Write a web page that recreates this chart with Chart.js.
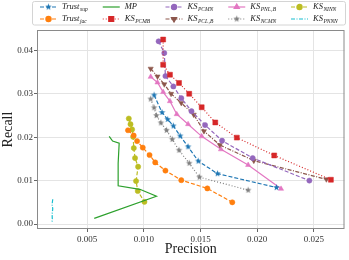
<!DOCTYPE html>
<html>
<head>
<meta charset="utf-8">
<script src="https://cdn.jsdelivr.net/npm/chart.js@4.4.0/dist/chart.umd.min.js"></script>
<style>
  html, body { margin: 0; padding: 0; background: #fff; }
  #wrap { width: 349px; height: 260px; }
</style>
</head>
<body>
<div id="wrap"><canvas id="c" width="349" height="260"></canvas></div>
<script>
const xTicks = [0.005, 0.010, 0.015, 0.020, 0.025]
const yTicks = [0.00, 0.01, 0.02, 0.03, 0.04]

const names = ["Trust", "Trust", "MP", "KS", "KS", "KS", "KS", "KS", "KS", "KS"]
const subs = ["sup", "jac", "", "PCMB", "PCMN", "PCL\u2081B", "PNL\u2081B", "NCMN", "NINN", "PNNN"]

// precision (x) / recall (y) per method
const trustSupP = [0.0109, 0.0116, 0.0121, 0.0126, 0.0132, 0.0139, 0.0148, 0.0165, 0.0217]
const trustSupR = [0.0297, 0.0257, 0.0241, 0.0226, 0.0203, 0.0178, 0.0145, 0.0116, 0.0084]
const trustJacP = [0.0086, 0.0091, 0.0094, 0.0099, 0.0105, 0.0110, 0.0119, 0.0133, 0.0156, 0.0178]
const trustJacR = [0.0216, 0.0204, 0.0191, 0.0176, 0.0159, 0.0142, 0.0123, 0.0101, 0.0082, 0.0050]
const mpP = [0.00694, 0.00724, 0.00782, 0.00773, 0.00773, 0.00964, 0.01111, 0.00562]
const mpR = [0.0202, 0.0191, 0.0186, 0.0140, 0.0088, 0.0080, 0.0064, 0.0013]
const pcmbP = [0.0117, 0.0117, 0.0123, 0.0131, 0.0140, 0.0151, 0.0163, 0.0182, 0.0215, 0.0265]
const pcmbR = [0.0425, 0.0367, 0.0344, 0.0325, 0.0300, 0.0269, 0.0234, 0.0199, 0.0158, 0.0102]
const pcmnP = [0.0113, 0.0118, 0.0119, 0.0126, 0.0133, 0.0142, 0.0154, 0.0169, 0.0196, 0.0246]
const pcmnR = [0.0421, 0.0394, 0.0341, 0.0317, 0.0290, 0.0260, 0.0228, 0.0192, 0.0152, 0.0100]
const pcl1bP = [0.0106, 0.0112, 0.0118, 0.0124, 0.0133, 0.0144, 0.0153, 0.0167, 0.0197, 0.0261]
const pcl1bR = [0.0358, 0.0340, 0.0322, 0.0300, 0.0279, 0.0252, 0.0214, 0.0182, 0.0146, 0.0103]
const pnl1bP = [0.0106, 0.0112, 0.0117, 0.0123, 0.0129, 0.0139, 0.0151, 0.0168, 0.0192, 0.0221]
const pnl1bR = [0.0339, 0.0326, 0.0304, 0.0283, 0.0253, 0.0230, 0.0202, 0.0172, 0.0136, 0.0081]
const ncmnP = [0.0106, 0.0109, 0.0111, 0.0115, 0.0120, 0.0125, 0.0131, 0.0140, 0.0149, 0.0192]
const ncmnR = [0.0288, 0.0268, 0.0250, 0.0233, 0.0216, 0.0195, 0.0170, 0.0140, 0.0108, 0.0078]
const ninnP = [0.00867, 0.00882, 0.00896, 0.00905, 0.00911, 0.00922, 0.00949, 0.00931, 0.00946, 0.01005]
const ninnR = [0.0243, 0.0230, 0.0218, 0.0201, 0.0175, 0.0152, 0.0132, 0.0099, 0.0076, 0.0051]
const pnnnP = [0.00196, 0.00190, 0.00196, 0.00190, 0.00192, 0.00190]
const pnnnR = [0.0057, 0.0045, 0.0035, 0.0022, 0.0012, 0.0005]

const pts = (xs, ys) => xs.map((x, i) => ({ x: x, y: ys[i] }))

// filled 5-point star like matplotlib's '*'
function starImg(color, r) {
  const c = document.createElement("canvas")
  const s = Math.ceil(r * 2 + 2)
  c.width = s; c.height = s
  const g = c.getContext("2d")
  g.fillStyle = color
  g.beginPath()
  for (let i = 0; i < 10; i++) {
    const rr = i % 2 === 0 ? r : r * 0.42
    const a = -Math.PI / 2 + i * Math.PI / 5
    const px = s / 2 + rr * Math.cos(a), py = s / 2 + rr * Math.sin(a)
    if (i === 0) g.moveTo(px, py); else g.lineTo(px, py)
  }
  g.closePath()
  g.fill()
  return c
}

const dashed = [4, 2]
const dotted = [1, 2]
const dashDot = [4, 1.5, 1, 1.5]

function series(xs, ys, color, dash, style, radius, rot) {
  return {
    data: pts(xs, ys),
    borderColor: color,
    backgroundColor: color,
    pointBackgroundColor: color,
    pointBorderColor: color,
    borderWidth: 1.2,
    borderDash: dash,
    pointStyle: style,
    pointRadius: radius,
    pointBorderWidth: 0.5,
    pointRotation: rot || 0,
    showLine: true,
    tension: 0
  }
}

const datasets = [
  series(trustSupP, trustSupR, "#1f77b4", dashed, starImg("#1f77b4", 3.4), 3.4),
  series(trustJacP, trustJacR, "#ff7f0e", dashed, "circle", 2.6),
  series(mpP, mpR, "#2ca02c", [], false, 0),
  series(pcmbP, pcmbR, "#d62728", dotted, "rect", 3.5),
  series(pcmnP, pcmnR, "#9467bd", dashed, "circle", 2.6),
  series(pcl1bP, pcl1bR, "#8c564b", dashDot, "triangle", 3, 180),
  series(pnl1bP, pnl1bR, "#e377c2", [], "triangle", 3),
  series(ncmnP, ncmnR, "#7f7f7f", dotted, starImg("#7f7f7f", 3.4), 3.4),
  series(ninnP, ninnR, "#bcbd22", dashed, "circle", 2.6),
  series(pnnnP, pnnnR, "#17becf", dashDot, false, 0)
]

const FONT = '"Liberation Serif", "DejaVu Serif", serif'

const frameAndLegend = {
  id: "frameAndLegend",
  afterDraw(chart) {
    const ctx = chart.ctx
    const a = chart.chartArea
    ctx.save()
    ctx.strokeStyle = "#8a8a8a"
    ctx.lineWidth = 1
    ctx.setLineDash([])
    ctx.strokeRect(a.left + 0.5, a.top + 0.5, a.right - a.left - 1, a.bottom - a.top - 1)

    // legend box
    ctx.fillStyle = "rgba(255,255,255,0.85)"
    ctx.strokeStyle = "#d4d4d4"
    ctx.beginPath()
    ctx.roundRect(32.5, 1.5, 313, 23.5, 2)
    ctx.fill()
    ctx.stroke()

    chart.data.datasets.forEach((ds, i) => {
      const col = Math.floor(i / 2), row = i % 2
      const lx = 40 + col * 62.75
      const ly = 7 + row * 12
      ctx.strokeStyle = ds.borderColor
      ctx.fillStyle = ds.borderColor
      ctx.lineWidth = 1.2
      ctx.setLineDash(ds.borderDash)
      ctx.beginPath()
      ctx.moveTo(lx, ly)
      ctx.lineTo(lx + 17, ly)
      ctx.stroke()
      ctx.setLineDash([])
      if (ds.pointStyle) {
        Chart.helpers.drawPoint(ctx, {
          pointStyle: ds.pointStyle, rotation: ds.pointRotation,
          radius: ds.pointRadius, borderWidth: 0.5
        }, lx + 8.5, ly)
      }
      ctx.fillStyle = "#222"
      ctx.textBaseline = "middle"
      ctx.textAlign = "left"
      ctx.font = "italic 8.5px " + FONT
      const tx = lx + 22
      ctx.fillText(names[i], tx, ly)
      const w = ctx.measureText(names[i]).width
      if (subs[i]) {
        ctx.font = "italic 5.5px " + FONT
        ctx.fillText(subs[i], tx + w + 0.5, ly + 2.5)
      }
    })
    ctx.restore()
  }
}

new Chart(document.getElementById("c"), {
  type: "scatter",
  data: { datasets: datasets },
  options: {
    responsive: false,
    devicePixelRatio: 1,
    animation: false,
    layout: { padding: { top: 30, right: 4, left: 0, bottom: 0 } },
    plugins: { legend: { display: false }, tooltip: { enabled: false } },
    scales: {
      x: {
        type: "linear",
        min: 0.00057,
        max: 0.0277,
        afterBuildTicks: (s) => { s.ticks = xTicks.map((v) => ({ value: v })) },
        afterFit: (s) => { s.height = 31 },
        grid: { color: "#e4e4e4", lineWidth: 1, tickLength: 3, tickColor: "#666" },
        border: { display: false },
        ticks: {
          color: "#333", padding: 2,
          font: { family: FONT, size: 9 },
          callback: (v) => v.toFixed(3)
        },
        title: {
          display: true, text: "Precision", color: "#222",
          font: { family: FONT, size: 14 }, padding: { top: 0, bottom: 2 }
        }
      },
      y: {
        type: "linear",
        min: -0.00115,
        max: 0.0447,
        afterBuildTicks: (s) => { s.ticks = yTicks.map((v) => ({ value: v })) },
        afterFit: (s) => { s.width = 37 },
        grid: { color: "#e4e4e4", lineWidth: 1, tickLength: 3, tickColor: "#666" },
        border: { display: false },
        ticks: {
          color: "#333", padding: 1,
          font: { family: FONT, size: 9 },
          callback: (v) => v.toFixed(2)
        },
        title: {
          display: true, text: "Recall", color: "#222",
          font: { family: FONT, size: 14 }, padding: { top: 0, bottom: 0 }
        }
      }
    }
  },
  plugins: [frameAndLegend]
})
</script>
</body>
</html>
